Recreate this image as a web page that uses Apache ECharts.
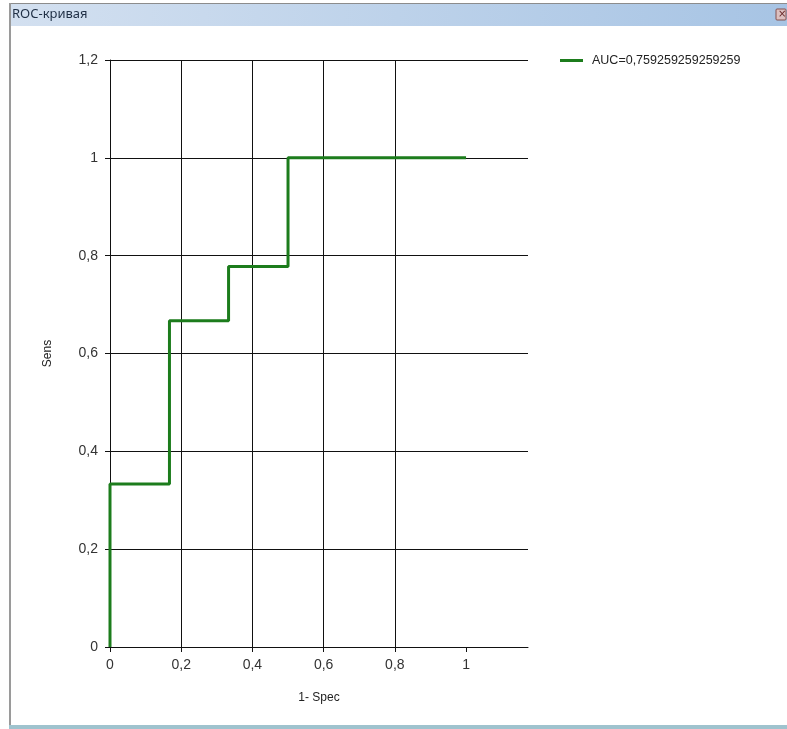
<!DOCTYPE html>
<html>
<head>
<meta charset="utf-8">
<title>ROC-кривая</title>
<script src="https://cdn.jsdelivr.net/npm/echarts@6/dist/echarts.min.js"></script>
<style>
  html, body { margin: 0; padding: 0; background: #ffffff; }
  #chart { width: 787px; height: 729px; }
</style>
</head>
<body>
<div id="chart"></div>
<script>
// ROC curve: false positive rate (1 - Spec) vs true positive rate (Sens)
const windowTitle = 'ROC-кривая';
const seriesName = 'AUC=0,759259259259259';
const fpr = [0, 0, 0.167, 0.167, 0.333, 0.333, 0.5, 0.5, 1];
const tpr = [0, 0.333, 0.333, 0.667, 0.667, 0.778, 0.778, 1, 1];
const xTicks = [0, 0.2, 0.4, 0.6, 0.8, 1];
const xMax = 1.174;
const yMin = 0, yMax = 1.2, yStep = 0.2;
const xName = '1- Spec';
const yName = 'Sens';

const points = fpr.map((x, i) => [x, tpr[i]]);
const commaNum = v => String(Number(v.toFixed(2))).replace('.', ',');

const W = 787, H = 729;
const chart = echarts.init(document.getElementById('chart'), null, { renderer: 'canvas' });

const option = {
  backgroundColor: '#ffffff',
  animation: false,
  textStyle: { fontFamily: 'Liberation Sans, Arial, sans-serif' },
  grid: { left: 110, top: 60, right: W - 528, bottom: H - 647, containLabel: false },
  legend: {
    left: 560, top: 54, padding: 0,
    itemWidth: 23, itemHeight: 3, itemGap: 10,
    icon: 'rect',
    textStyle: { fontSize: 12.5, color: '#222222', padding: [0, 0, 0, 4] },
    data: [seriesName]
  },
  xAxis: {
    type: 'value', min: 0, max: xMax,
    name: xName, nameLocation: 'middle', nameGap: 45,
    nameTextStyle: { fontSize: 12, color: '#222222' },
    axisLine: { show: true, onZero: false, lineStyle: { color: '#111111', width: 1 } },
    axisTick: { show: true, inside: false, length: 5, customValues: xTicks, lineStyle: { color: '#111111' } },
    axisLabel: { customValues: xTicks, margin: 11, fontSize: 14, color: '#333333', formatter: commaNum },
    splitLine: { show: true, showMaxLine: false, lineStyle: { color: '#111111', width: 1 } }
  },
  yAxis: {
    type: 'value', min: yMin, max: yMax, interval: yStep,
    name: yName, nameLocation: 'middle', nameGap: 56, nameRotate: 90,
    nameTextStyle: { fontSize: 12, color: '#222222' },
    axisLine: { show: true, onZero: false, lineStyle: { color: '#111111', width: 1 } },
    axisTick: { show: true, inside: false, length: 5, lineStyle: { color: '#111111' } },
    axisLabel: { margin: 12, fontSize: 14, color: '#333333', formatter: commaNum },
    splitLine: { show: true, lineStyle: { color: '#111111', width: 1 } }
  },
  series: [{
    name: seriesName,
    type: 'line',
    data: points,
    showSymbol: false,
    symbol: 'none',
    lineStyle: { color: '#1c7c1c', width: 3 },
    itemStyle: { color: '#1c7c1c' },
    z: 3
  }],
  graphic: [
    // window frame: title bar, borders and close box
    { type: 'rect', shape: { x: 9, y: 3, width: W - 9, height: 23 },
      style: { fill: new echarts.graphic.LinearGradient(0, 0, 1, 0, [
        { offset: 0, color: '#d3e0f0' }, { offset: 1, color: '#a7c4e4' }]) }, silent: true, z: 0 },
    { type: 'line', shape: { x1: 9, y1: 3.5, x2: W, y2: 3.5 }, style: { stroke: '#8c8c8c', lineWidth: 1 }, silent: true },
    { type: 'rect', shape: { x: 9, y: 3, width: 2, height: H - 3 }, style: { fill: '#9a9a9a' }, silent: true },
    { type: 'rect', shape: { x: 9, y: H - 4, width: W - 9, height: 4 }, style: { fill: '#9fc3ce' }, silent: true },
    { type: 'text', left: 12, top: 8,
      style: { text: windowTitle, fontSize: 13, fontFamily: 'Noto Sans, Open Sans, sans-serif', fill: '#1f2f45' }, silent: true },
    { type: 'rect', shape: { x: 776, y: 9, width: 10, height: 11, r: 1 },
      style: { fill: '#dcc0c0', stroke: '#84504e', lineWidth: 1 }, silent: true },
    { type: 'text', left: 778, top: 9,
      style: { text: '×', fontSize: 10, fontFamily: 'DejaVu Sans', fill: '#6a2a2a' }, silent: true }
  ]
};
chart.setOption(option);
</script>
</body>
</html>
